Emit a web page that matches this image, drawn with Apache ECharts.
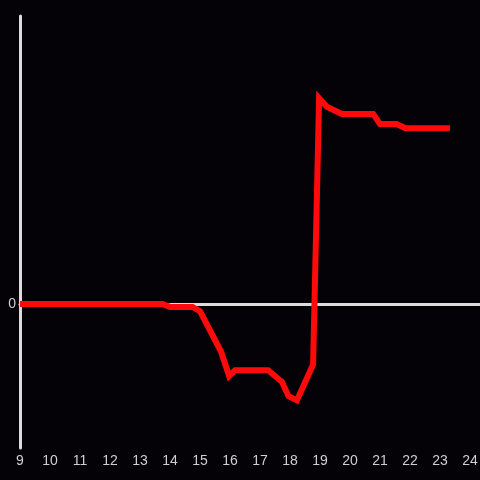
<!DOCTYPE html>
<html>
<head>
<meta charset="utf-8">
<script src="https://cdn.jsdelivr.net/npm/echarts@6/dist/echarts.min.js"></script>
<style>
  html, body { margin: 0; padding: 0; background: #040206; }
  #chart { width: 480px; height: 480px; }
</style>
</head>
<body>
<div id="chart"></div>
<script>
// hour of day
var hours = [9, 13.75, 14, 14.75, 15, 15.7, 15.97, 16.17, 17.27, 17.73, 17.95, 18.23, 18.77, 18.97, 19.23, 19.73, 20.77, 21.0, 21.55, 21.85, 23.33];
// values
var values = [0, 0, -2, -2, -5, -33, -50, -46, -46, -54, -64, -67, -42, 143, 137, 132, 132, 125, 125, 122, 122];

var chart = echarts.init(document.getElementById('chart'));

var seriesData = hours.map(function (h, i) {
	return [h, values[i]];
});

var option = {
	backgroundColor: '#040206',
	animation: false,
	grid: {
		left: 20,
		right: 0,
		top: 16,
		bottom: 32,
		outerBoundsMode: 'none'
	},
	xAxis: {
		type: 'value',
		min: 9,
		max: 24.3333,
		interval: 1,
		axisLine: {
			show: true,
			onZero: true,
			lineStyle: { color: '#dcdcdc', width: 3 }
		},
		axisTick: { show: false },
		splitLine: { show: false },
		axisLabel: {
			color: '#cfcfcf',
			fontSize: 14,
			margin: 6,
			showMaxLabel: true,
			formatter: function (v) {
				return Number.isInteger(v) ? String(v) : '';
			}
		}
	},
	yAxis: {
		type: 'value',
		min: -100,
		max: 200,
		interval: 100,
		axisLine: {
			show: true,
			lineStyle: { color: '#dcdcdc', width: 3 }
		},
		axisTick: { show: false },
		splitLine: { show: false },
		axisLabel: {
			color: '#cfcfcf',
			fontSize: 14,
			margin: 4,
			formatter: function (v) {
				return v === 0 ? '0' : '';
			}
		}
	},
	series: [
		{
			type: 'line',
			data: seriesData,
			symbol: 'none',
			lineStyle: { color: '#ff0a0a', width: 6, join: 'miter' },
			z: 3
		}
	]
};

chart.setOption(option);
</script>
</body>
</html>
